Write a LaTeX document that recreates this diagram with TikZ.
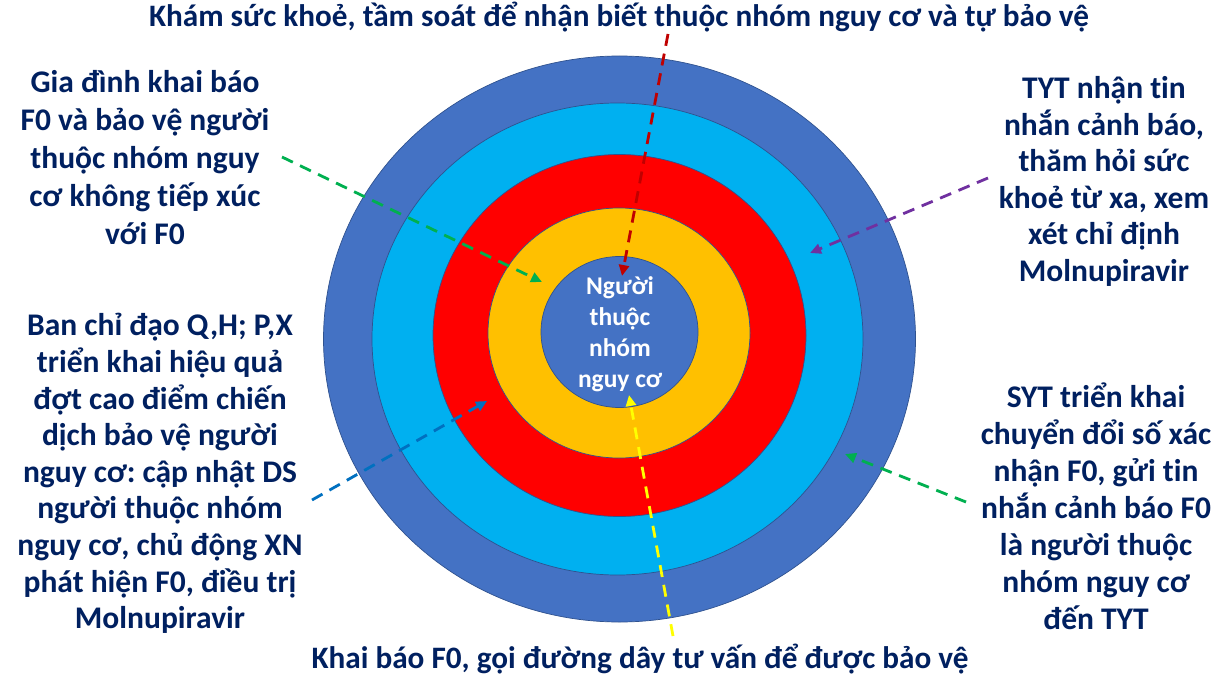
\documentclass[tikz,border=0pt]{standalone}
\usepackage{fontspec}
\setmainfont{Carlito}[RawFeature={-liga;-clig;-calt}]
\frenchspacing
\usetikzlibrary{shapes.geometric,arrows.meta}
\definecolor{navytext}{HTML}{002060}
\definecolor{ringblue}{HTML}{4472C4}
\definecolor{ringcyan}{HTML}{00B0F0}
\definecolor{ringred}{HTML}{FF0000}
\definecolor{ringgold}{HTML}{FFC000}
\definecolor{ringline}{HTML}{2F528F}
\definecolor{arrowred}{HTML}{C00000}
\definecolor{arrowgreen}{HTML}{00B050}
\definecolor{arrowpurple}{HTML}{7030A0}
\definecolor{arrowblue}{HTML}{0070C0}
\definecolor{arrowyellow}{HTML}{FFFF00}
\begin{document}
\begin{tikzpicture}
    [
  x=1pt, y=-1pt,
  ring/.style={
    ellipse,
    draw=ringline,
    line width=0.7pt,
    inner sep=0pt
  },
  note/.style={
    text=navytext,
    align=center,
    inner sep=0pt,
    font=\fontsize{31.5}{37}\selectfont\bfseries
  },
  heading/.style={
    text=navytext,
    inner sep=0pt,
    font=\fontsize{31.2}{36}\selectfont\bfseries
  },
  pointer/.style={
    dash pattern=on 12pt off 8pt,
    line width=2.8pt,
    -{Triangle[length=11pt,width=10pt]}
  }
  ]
  \useasboundingbox [fill=white] (0,0) rectangle (1230,682);

  % target rings
  \node (outer) at (619.5,339) [ring, fill=ringblue, minimum width=592pt, minimum height=566pt] {};
  \node (cyan) at (617.5,339) [ring, fill=ringcyan, minimum width=491pt, minimum height=472pt] {};
  \node (red) at (619.5,335.5) [ring, fill=ringred, minimum width=373pt, minimum height=362pt] {};
  \node (gold) at (619,333) [ring, fill=ringgold, minimum width=262pt, minimum height=250pt] {};
  \node (core) at (619.5,332) [ring, fill=ringblue, minimum width=157pt, minimum height=151pt] {};
  \node (corelabel) at (620,334) [align=center, inner sep=0pt, text=white,
    font=\fontsize{25.5}{31}\selectfont\bfseries] {Người\\thuộc\\nhóm\\nguy cơ};

  % texts
  \node (top) at (619,17) [heading] {Khám sức khoẻ, tầm soát để nhận biết thuộc nhóm nguy cơ và tự bảo vệ};
  \node (bottom) at (640,659) [heading] {Khai báo F0, gọi đường dây tư vấn để được bảo vệ};
  \node (family) at (145,158) [note, font=\fontsize{31.5}{38}\selectfont\bfseries]
    {Gia đình khai báo\\F0 và bảo vệ người\\thuộc nhóm nguy\\cơ không tiếp xúc\\với F0};
  \node (board) at (160,473.5) [note, font=\fontsize{31.5}{36.6}\selectfont\bfseries]
    {Ban chỉ đạo Q,H; P,X\\triển khai hiệu quả\\đợt cao điểm chiến\\dịch bảo vệ người\\nguy cơ: cập nhật DS\\người thuộc nhóm\\nguy cơ, chủ động XN\\phát hiện F0, điều trị\\Molnupiravir};
  \node (station) at (1104,181.5) [note, font=\fontsize{31.5}{36.6}\selectfont\bfseries]
    {TYT nhận tin\\nhắn cảnh báo,\\thăm hỏi sức\\khoẻ từ xa, xem\\xét chỉ định\\Molnupiravir};
  \node (dept) at (1096,506) [note]
    {SYT triển khai\\chuyển đổi số xác\\nhận F0, gửi tin\\nhắn cảnh báo F0\\là người thuộc\\nhóm nguy cơ\\đến TYT};

  % arrows
  \coordinate (topstart) at (668,34);
  \coordinate (toptip) at (622,276);
  \coordinate (familystart) at (282,157);
  \coordinate (familytip) at (542,282);
  \coordinate (stationstart) at (988,178);
  \coordinate (stationtip) at (810,253);
  \coordinate (boardstart) at (312,500);
  \coordinate (boardtip) at (487,401);
  \coordinate (deptstart) at (966,502);
  \coordinate (depttip) at (845,454);
  \coordinate (bottomstart) at (673,636);
  \coordinate (bottomtip) at (629,395);
  \draw [pointer, arrowred] (topstart) -- (toptip);
  \draw [pointer, arrowgreen] (familystart) -- (familytip);
  \draw [pointer, arrowpurple] (stationstart) -- (stationtip);
  \draw [pointer, arrowblue] (boardstart) -- (boardtip);
  \draw [pointer, arrowgreen] (deptstart) -- (depttip);
  \draw [pointer, arrowyellow] (bottomstart) -- (bottomtip);
\end{tikzpicture}
\end{document}
